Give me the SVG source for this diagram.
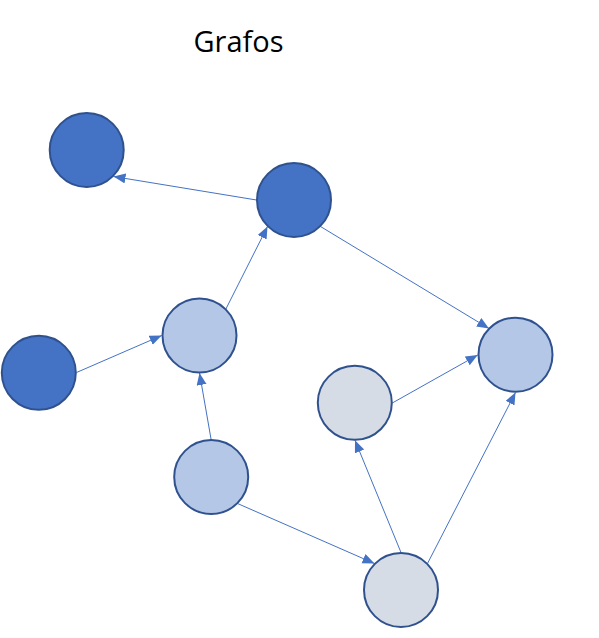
<svg xmlns="http://www.w3.org/2000/svg" width="599" height="638" viewBox="0 0 599 638">
<style>
.n{stroke:#2F528F;stroke-width:2}
.dark{fill:#4472C4}
.light{fill:#B4C7E7}
.gray{fill:#D6DCE5}
.e{stroke:#4472C4;stroke-width:1;fill:none;marker-end:url(#ah)}
.t{font-family:"Open Sans","Liberation Sans",sans-serif;font-size:29px;fill:#000}
</style>
<defs>
<marker id="ah" markerUnits="userSpaceOnUse" markerWidth="13" markerHeight="11" refX="12" refY="5" orient="auto">
<path d="M0,0 L12,5 L0,10 Z" fill="#4472C4"/>
</marker>
</defs>
<rect width="599" height="638" fill="#fff"/>
<text class="t" x="238.5" y="52" text-anchor="middle">Grafos</text>
<g id="connectors">
<line class="e" x1="256.5" y1="200" x2="113.5" y2="176.5"/>
<line class="e" x1="320.5" y1="226.5" x2="489" y2="328.5"/>
<line class="e" x1="225.8" y1="309.2" x2="267.5" y2="226.5"/>
<line class="e" x1="76.5" y1="372.5" x2="161.7" y2="335.5"/>
<line class="e" x1="211.2" y1="440" x2="199.5" y2="373"/>
<line class="e" x1="237.5" y1="503.5" x2="374.5" y2="563.5"/>
<line class="e" x1="392.3" y1="403" x2="477.7" y2="355"/>
<line class="e" x1="401" y1="552.5" x2="355" y2="440.3"/>
<line class="e" x1="427.5" y1="563.5" x2="515.5" y2="392.5"/>
</g>
<g id="nodeA"><circle class="n dark" cx="86.7" cy="150" r="37"/></g>
<g id="nodeB"><circle class="n dark" cx="294" cy="200" r="37"/></g>
<g id="nodeC"><circle class="n light" cx="199.5" cy="335.5" r="37"/></g>
<g id="nodeD"><circle class="n dark" cx="38.8" cy="372.8" r="37"/></g>
<g id="nodeE"><circle class="n light" cx="211.2" cy="477" r="37"/></g>
<g id="nodeF"><circle class="n light" cx="515.5" cy="354.7" r="37"/></g>
<g id="nodeG"><circle class="n gray" cx="354.8" cy="402.8" r="37"/></g>
<g id="nodeH"><circle class="n gray" cx="401" cy="590" r="37"/></g>
</svg>
